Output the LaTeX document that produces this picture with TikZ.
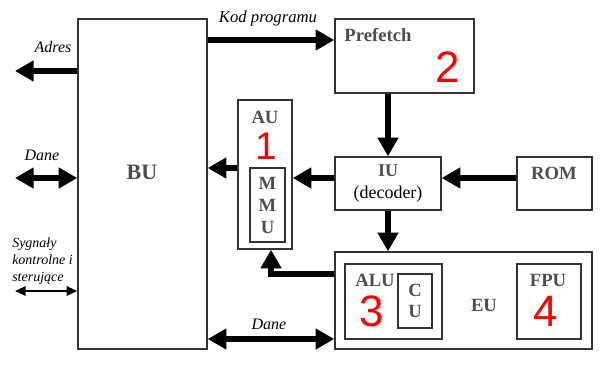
\documentclass[tikz,border=0pt]{standalone}
\usepackage{xcolor}
\usepackage{fontspec}
\setmainfont{Liberation Serif}
\newfontfamily\numfont{Liberation Sans}
\usepackage{tikz}
\usetikzlibrary{arrows.meta}

\definecolor{boxgray}{HTML}{333333}
\definecolor{labelgray}{HTML}{4D4D4D}

\begin{document}
\begin{tikzpicture}[x=0.75pt, y=-0.75pt,
    box/.style 2 args={draw=boxgray, line width=1.1pt, inner sep=0pt,
        minimum width=#1*0.75pt, minimum height=#2*0.75pt},
    unit/.style={font=\bfseries\fontsize{14}{16}\selectfont, text=labelgray},
    num/.style={font=\numfont\fontsize{33}{33}\selectfont, text=red},
    lbl/.style={font=\itshape\fontsize{12}{14}\selectfont},
    >={Triangle[length=14pt, width=15pt]},
    bus/.style={line width=3.8pt, ->},
    sig/.style={line width=1.5pt, {Triangle[length=8pt, width=7pt]}-{Triangle[length=8pt, width=7pt]}}]

    \useasboundingbox (0,0) rectangle (600,369);

    % Blocks
    \node[box={129}{330}] (bu) at (142.5,184) {};
    \node[box={139}{74}] (pre) at (404.5,56) {};
    \node[box={106}{53}, align=center, font=\fontsize{13.5}{16.5}\selectfont] (iu) at (388,183.5)
        {\textbf{\textcolor{labelgray}{IU}}\\(decoder)};
    \node[box={75}{53}] (rom) at (554.5,183.5) {};
    \node[box={54}{149}] (au) at (265,174.5) {};
    \node[box={35}{74}, unit, align=center, font=\bfseries\fontsize{14}{16.5}\selectfont] (mmu) at (267.5,205) {M\\M\\U};
    \node[box={257}{97}] (eu) at (463.5,300.5) {};
    \node[box={97}{75}] (alu) at (393.5,301.5) {};
    \node[box={34}{54}, unit, align=center, font=\bfseries\fontsize{14}{15.75}\selectfont] (cu) at (415,301) {C\\U};
    \node[box={64}{75}] (fpu) at (549,301.5) {};

    % Block names
    \node[unit, font=\bfseries\fontsize{16.5}{18}\selectfont] (butxt) at (142,172) {BU};
    \node[unit] (pretxt) at (378,35) {Prefetch};
    \node[unit] (autxt) at (265,117) {AU};
    \node[unit] (romtxt) at (554,173) {ROM};
    \node[unit] (alutxt) at (375,280) {ALU};
    \node[unit] (eutxt) at (484,305) {EU};
    \node[unit] (fputxt) at (548,280) {FPU};

    % Numbers
    \node[num, font=\numfont\fontsize{29}{29}\selectfont] (n1) at (266,146) {1};
    \node[num] (n2) at (448,67) {2};
    \node[num] (n3) at (372,311) {3};
    \node[num] (n4) at (546,311) {4};

    % Outside lines
    \coordinate (adres) at (15,71);
    \coordinate (dane) at (15,178);
    \coordinate (sygnaly) at (15,291);
    \draw[bus] (bu.west |- adres) -- (adres);
    \draw[bus, <->] (dane) -- (bu.west |- dane);
    \draw[sig] (sygnaly) -- (bu.west |- sygnaly);
    \node[lbl] (adreslbl) at (53,47) {Adres};
    \node[lbl] (danelbl) at (42,155) {Dane};
    \node[font=\itshape\fontsize{10.5}{12.5}\selectfont, align=left, anchor=west, inner sep=0pt]
        (syglbl) at (12,261) {Sygnały\\kontrolne i\\sterujące};

    % Inside lines
    \coordinate (kod) at (270,40);
    \coordinate (dec) at (300,178);
    \coordinate (mem) at (220,168);
    \coordinate (back) at (271,274);
    \coordinate (data) at (270,339);
    \draw[bus] (bu.east |- kod) -- (pre.west |- kod);
    \draw[bus] (pre.south -| iu.north) -- (iu.north);
    \draw[bus] (rom.west |- dec) -- (iu.east |- dec);
    \draw[bus] (iu.west |- dec) -- (au.east |- dec);
    \draw[bus] (au.west |- mem) -- (bu.east |- mem);
    \draw[bus] (iu.south) -- (iu.south |- eu.north);
    \draw[bus] (eu.west |- back) -| (au.south -| back);
    \draw[bus, <->] (bu.east |- data) -- (eu.west |- data);
    \node[lbl, font=\itshape\fontsize{12.5}{14}\selectfont] (kodlbl) at (268,18) {Kod programu};
    \node[lbl] (datalbl) at (269,324) {Dane};
\end{tikzpicture}
\end{document}
